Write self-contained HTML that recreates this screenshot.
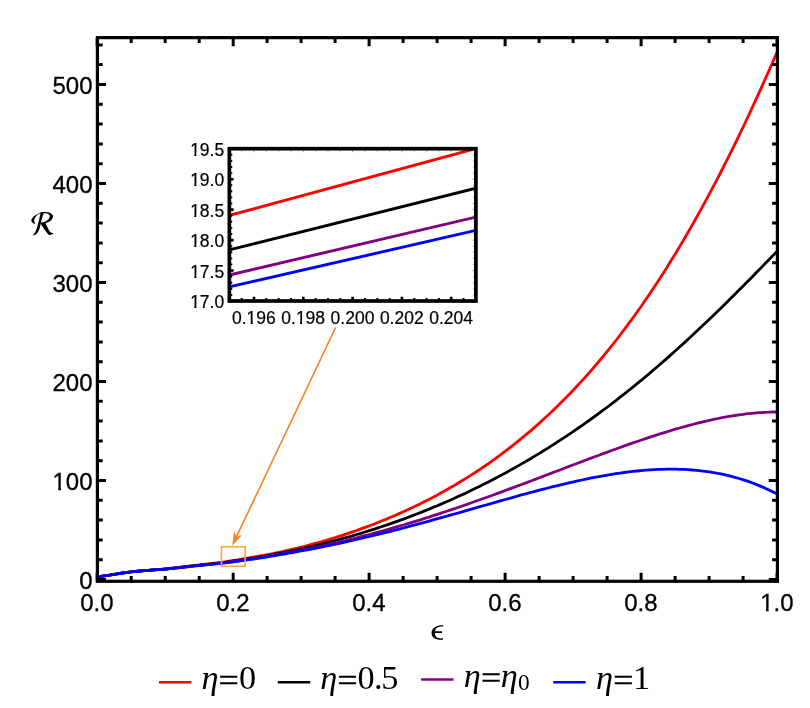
<!DOCTYPE html>
<html><head><meta charset="utf-8"><title>plot</title>
<style>html,body{margin:0;padding:0;background:#fff}svg{display:block;will-change:transform}text{font-family:"Liberation Sans",sans-serif;fill:#000}.s{font-family:"Liberation Serif",serif}</style></head><body>
<svg width="810" height="708" viewBox="0 0 810 708">
<rect width="810" height="708" fill="#fff"/>
<defs><clipPath id="cp"><rect x="97.4" y="37.65" width="680.0" height="543.65"/></clipPath><clipPath id="ci"><rect x="229.35" y="148.7" width="246.55" height="152.3"/></clipPath></defs>
<g clip-path="url(#cp)" fill="none" stroke-width="2.8" stroke-linejoin="round">
<path d="M97.4,578.6 L99.1,577.0 L100.8,576.5 L102.5,576.2 L104.2,575.9 L105.9,575.6 L107.6,575.3 L109.3,575.1 L111.0,574.8 L114.4,574.3 L118.7,573.6 L122.9,572.9 L127.2,572.3 L131.4,571.7 L135.7,571.3 L139.9,571.0 L144.2,570.6 L148.4,570.3 L152.7,569.9 L156.9,569.6 L161.2,569.3 L165.4,568.9 L169.6,568.5 L173.9,568.0 L178.2,567.5 L182.4,567.0 L186.7,566.4 L190.9,565.9 L195.1,565.4 L199.4,564.9 L203.6,564.5 L207.9,564.0 L212.1,563.5 L216.4,562.9 L220.7,562.4 L224.9,561.8 L229.1,561.2 L233.4,560.5 L237.7,559.9 L241.9,559.2 L246.1,558.5 L250.4,557.7 L254.7,557.0 L258.9,556.2 L263.1,555.4 L267.4,554.6 L271.6,553.8 L275.9,552.9 L280.1,552.0 L284.4,551.1 L288.6,550.1 L292.9,549.1 L297.1,548.1 L301.4,547.1 L305.7,546.0 L309.9,544.9 L314.1,543.7 L318.4,542.5 L322.6,541.3 L326.9,540.1 L331.1,538.8 L335.4,537.5 L339.6,536.2 L343.9,534.8 L348.1,533.4 L352.4,531.9 L356.6,530.5 L360.9,528.9 L365.1,527.4 L369.4,525.8 L373.6,524.2 L377.9,522.5 L382.1,520.8 L386.4,519.1 L390.6,517.3 L394.9,515.5 L399.1,513.6 L403.4,511.7 L407.6,509.8 L411.9,507.8 L416.1,505.8 L420.4,503.7 L424.6,501.6 L428.9,499.4 L433.1,497.2 L437.4,494.9 L441.6,492.6 L445.9,490.2 L450.1,487.8 L454.4,485.4 L458.6,482.8 L462.9,480.2 L467.1,477.6 L471.4,474.9 L475.6,472.2 L479.9,469.4 L484.1,466.5 L488.4,463.6 L492.6,460.6 L496.9,457.5 L501.1,454.4 L505.4,451.2 L509.6,447.9 L513.9,444.6 L518.1,441.2 L522.4,437.7 L526.6,434.2 L530.9,430.6 L535.1,426.9 L539.4,423.1 L543.6,419.3 L547.9,415.3 L552.1,411.3 L556.4,407.2 L560.6,403.1 L564.9,398.8 L569.1,394.5 L573.4,390.0 L577.6,385.5 L581.9,380.9 L586.1,376.2 L590.4,371.4 L594.6,366.5 L598.9,361.5 L603.1,356.4 L607.4,351.2 L611.6,345.9 L615.9,340.5 L620.1,335.0 L624.4,329.4 L628.6,323.7 L632.9,317.9 L637.1,312.0 L641.4,306.0 L645.6,299.8 L649.9,293.6 L654.1,287.2 L658.4,280.7 L662.6,274.2 L666.9,267.5 L671.1,260.6 L675.4,253.7 L679.6,246.6 L683.9,239.5 L688.1,232.2 L692.4,224.8 L696.6,217.2 L700.9,209.6 L705.1,201.8 L709.4,193.9 L713.6,185.9 L717.9,177.8 L722.1,169.5 L726.4,161.2 L730.6,152.7 L734.9,144.1 L739.1,135.3 L743.4,126.5 L747.6,117.5 L751.9,108.4 L756.1,99.2 L760.4,89.9 L764.6,80.4 L768.9,70.9 L773.1,61.2 L777.4,51.4" stroke="#ff0000"/>
<path d="M97.4,578.6 L99.1,577.0 L100.8,576.5 L102.5,576.2 L104.2,575.9 L105.9,575.6 L107.6,575.3 L109.3,575.1 L111.0,574.8 L114.4,574.3 L118.7,573.6 L122.9,572.9 L127.2,572.3 L131.4,571.8 L135.7,571.3 L139.9,571.0 L144.2,570.7 L148.4,570.3 L152.7,570.0 L156.9,569.7 L161.2,569.3 L165.4,569.0 L169.6,568.6 L173.9,568.1 L178.2,567.6 L182.4,567.1 L186.7,566.6 L190.9,566.1 L195.1,565.6 L199.4,565.2 L203.6,564.7 L207.9,564.3 L212.1,563.8 L216.4,563.3 L220.7,562.8 L224.9,562.3 L229.1,561.7 L233.4,561.1 L237.7,560.5 L241.9,559.8 L246.1,559.2 L250.4,558.5 L254.7,557.8 L258.9,557.1 L263.1,556.4 L267.4,555.6 L271.6,554.8 L275.9,554.0 L280.1,553.2 L284.4,552.4 L288.6,551.5 L292.9,550.6 L297.1,549.7 L301.4,548.8 L305.7,547.9 L309.9,546.9 L314.1,545.9 L318.4,544.9 L322.6,543.8 L326.9,542.7 L331.1,541.6 L335.4,540.5 L339.6,539.4 L343.9,538.2 L348.1,537.0 L352.4,535.8 L356.6,534.5 L360.9,533.3 L365.1,532.0 L369.4,530.6 L373.6,529.3 L377.9,527.9 L382.1,526.5 L386.4,525.1 L390.6,523.6 L394.9,522.1 L399.1,520.6 L403.4,519.1 L407.6,517.5 L411.9,515.9 L416.1,514.3 L420.4,512.6 L424.6,510.9 L428.9,509.2 L433.1,507.4 L437.4,505.7 L441.6,503.9 L445.9,502.0 L450.1,500.2 L454.4,498.3 L458.6,496.3 L462.9,494.4 L467.1,492.4 L471.4,490.3 L475.6,488.3 L479.9,486.2 L484.1,484.1 L488.4,481.9 L492.6,479.7 L496.9,477.5 L501.1,475.2 L505.4,473.0 L509.6,470.6 L513.9,468.3 L518.1,465.9 L522.4,463.4 L526.6,461.0 L530.9,458.5 L535.1,455.9 L539.4,453.4 L543.6,450.7 L547.9,448.1 L552.1,445.4 L556.4,442.7 L560.6,439.9 L564.9,437.1 L569.1,434.3 L573.4,431.4 L577.6,428.5 L581.9,425.6 L586.1,422.6 L590.4,419.5 L594.6,416.5 L598.9,413.4 L603.1,410.2 L607.4,407.0 L611.6,403.8 L615.9,400.6 L620.1,397.2 L624.4,393.9 L628.6,390.5 L632.9,387.1 L637.1,383.7 L641.4,380.2 L645.6,376.6 L649.9,373.1 L654.1,369.4 L658.4,365.8 L662.6,362.1 L666.9,358.4 L671.1,354.6 L675.4,350.8 L679.6,347.0 L683.9,343.1 L688.1,339.2 L692.4,335.3 L696.6,331.3 L700.9,327.3 L705.1,323.3 L709.4,319.2 L713.6,315.2 L717.9,311.0 L722.1,306.9 L726.4,302.7 L730.6,298.5 L734.9,294.3 L739.1,290.0 L743.4,285.8 L747.6,281.5 L751.9,277.2 L756.1,272.8 L760.4,268.5 L764.6,264.1 L768.9,259.8 L773.1,255.4 L777.4,251.0" stroke="#000000"/>
<path d="M97.4,578.6 L99.1,577.0 L100.8,576.5 L102.5,576.2 L104.2,575.9 L105.9,575.6 L107.6,575.3 L109.3,575.1 L111.0,574.8 L114.4,574.3 L118.7,573.6 L122.9,573.0 L127.2,572.3 L131.4,571.8 L135.7,571.4 L139.9,571.0 L144.2,570.7 L148.4,570.4 L152.7,570.0 L156.9,569.7 L161.2,569.4 L165.4,569.0 L169.6,568.6 L173.9,568.2 L178.2,567.7 L182.4,567.3 L186.7,566.8 L190.9,566.3 L195.1,565.8 L199.4,565.4 L203.6,565.0 L207.9,564.5 L212.1,564.1 L216.4,563.6 L220.7,563.2 L224.9,562.6 L229.1,562.1 L233.4,561.5 L237.7,561.0 L241.9,560.4 L246.1,559.7 L250.4,559.1 L254.7,558.5 L258.9,557.8 L263.1,557.1 L267.4,556.4 L271.6,555.7 L275.9,555.0 L280.1,554.2 L284.4,553.4 L288.6,552.7 L292.9,551.9 L297.1,551.0 L301.4,550.2 L305.7,549.4 L309.9,548.5 L314.1,547.6 L318.4,546.7 L322.6,545.8 L326.9,544.9 L331.1,543.9 L335.4,543.0 L339.6,542.0 L343.9,541.0 L348.1,539.9 L352.4,538.9 L356.6,537.8 L360.9,536.7 L365.1,535.6 L369.4,534.5 L373.6,533.4 L377.9,532.2 L382.1,531.1 L386.4,529.9 L390.6,528.7 L394.9,527.4 L399.1,526.2 L403.4,525.0 L407.6,523.7 L411.9,522.4 L416.1,521.1 L420.4,519.8 L424.6,518.4 L428.9,517.1 L433.1,515.7 L437.4,514.3 L441.6,512.9 L445.9,511.5 L450.1,510.1 L454.4,508.7 L458.6,507.2 L462.9,505.7 L467.1,504.3 L471.4,502.8 L475.6,501.3 L479.9,499.8 L484.1,498.3 L488.4,496.7 L492.6,495.2 L496.9,493.6 L501.1,492.1 L505.4,490.5 L509.6,488.9 L513.9,487.4 L518.1,485.8 L522.4,484.2 L526.6,482.6 L530.9,481.0 L535.1,479.4 L539.4,477.8 L543.6,476.1 L547.9,474.5 L552.1,472.9 L556.4,471.3 L560.6,469.7 L564.9,468.0 L569.1,466.4 L573.4,464.8 L577.6,463.2 L581.9,461.6 L586.1,460.0 L590.4,458.4 L594.6,456.8 L598.9,455.2 L603.1,453.6 L607.4,452.1 L611.6,450.5 L615.9,449.0 L620.1,447.5 L624.4,445.9 L628.6,444.4 L632.9,442.9 L637.1,441.5 L641.4,440.0 L645.6,438.6 L649.9,437.2 L654.1,435.8 L658.4,434.4 L662.6,433.1 L666.9,431.8 L671.1,430.5 L675.4,429.2 L679.6,428.0 L683.9,426.8 L688.1,425.6 L692.4,424.5 L696.6,423.4 L700.9,422.3 L705.1,421.3 L709.4,420.3 L713.6,419.4 L717.9,418.5 L722.1,417.7 L726.4,416.9 L730.6,416.1 L734.9,415.5 L739.1,414.8 L743.4,414.3 L747.6,413.7 L751.9,413.3 L756.1,412.9 L760.4,412.6 L764.6,412.3 L768.9,412.2 L773.1,412.0 L777.4,412.0" stroke="#800080"/>
<path d="M97.4,578.6 L99.1,577.0 L100.8,576.5 L102.5,576.2 L104.2,575.9 L105.9,575.6 L107.6,575.3 L109.3,575.1 L111.0,574.8 L114.4,574.3 L118.7,573.6 L122.9,573.0 L127.2,572.3 L131.4,571.8 L135.7,571.4 L139.9,571.0 L144.2,570.7 L148.4,570.4 L152.7,570.0 L156.9,569.7 L161.2,569.4 L165.4,569.1 L169.6,568.7 L173.9,568.2 L178.2,567.8 L182.4,567.3 L186.7,566.8 L190.9,566.4 L195.1,565.9 L199.4,565.5 L203.6,565.1 L207.9,564.7 L212.1,564.2 L216.4,563.8 L220.7,563.3 L224.9,562.8 L229.1,562.3 L233.4,561.8 L237.7,561.2 L241.9,560.6 L246.1,560.0 L250.4,559.4 L254.7,558.8 L258.9,558.2 L263.1,557.5 L267.4,556.8 L271.6,556.1 L275.9,555.4 L280.1,554.7 L284.4,554.0 L288.6,553.2 L292.9,552.5 L297.1,551.7 L301.4,550.9 L305.7,550.1 L309.9,549.3 L314.1,548.5 L318.4,547.7 L322.6,546.9 L326.9,546.0 L331.1,545.1 L335.4,544.2 L339.6,543.3 L343.9,542.4 L348.1,541.4 L352.4,540.5 L356.6,539.5 L360.9,538.5 L365.1,537.5 L369.4,536.5 L373.6,535.5 L377.9,534.4 L382.1,533.4 L386.4,532.3 L390.6,531.3 L394.9,530.2 L399.1,529.1 L403.4,528.0 L407.6,526.8 L411.9,525.7 L416.1,524.6 L420.4,523.4 L424.6,522.3 L428.9,521.1 L433.1,519.9 L437.4,518.7 L441.6,517.6 L445.9,516.4 L450.1,515.2 L454.4,514.0 L458.6,512.8 L462.9,511.6 L467.1,510.3 L471.4,509.1 L475.6,507.9 L479.9,506.7 L484.1,505.5 L488.4,504.3 L492.6,503.1 L496.9,501.9 L501.1,500.7 L505.4,499.5 L509.6,498.3 L513.9,497.1 L518.1,495.9 L522.4,494.7 L526.6,493.6 L530.9,492.4 L535.1,491.3 L539.4,490.2 L543.6,489.1 L547.9,488.0 L552.1,486.9 L556.4,485.9 L560.6,484.8 L564.9,483.8 L569.1,482.8 L573.4,481.8 L577.6,480.9 L581.9,480.0 L586.1,479.1 L590.4,478.2 L594.6,477.4 L598.9,476.6 L603.1,475.8 L607.4,475.1 L611.6,474.4 L615.9,473.7 L620.1,473.1 L624.4,472.5 L628.6,471.9 L632.9,471.4 L637.1,471.0 L641.4,470.6 L645.6,470.2 L649.9,469.9 L654.1,469.6 L658.4,469.4 L662.6,469.3 L666.9,469.2 L671.1,469.1 L675.4,469.2 L679.6,469.3 L683.9,469.4 L688.1,469.7 L692.4,470.0 L696.6,470.3 L700.9,470.8 L705.1,471.3 L709.4,471.9 L713.6,472.6 L717.9,473.3 L722.1,474.2 L726.4,475.1 L730.6,476.2 L734.9,477.3 L739.1,478.5 L743.4,479.8 L747.6,481.2 L751.9,482.7 L756.1,484.4 L760.4,486.1 L764.6,487.9 L768.9,489.9 L773.1,491.9 L777.4,494.1" stroke="#0000ff"/>
</g>
<path d="M97.2,581.3v-8.6M97.2,37.65v8.6M131.2,581.3v-5.3M131.2,37.65v5.3M165.2,581.3v-5.3M165.2,37.65v5.3M199.2,581.3v-5.3M199.2,37.65v5.3M233.2,581.3v-8.6M233.2,37.65v8.6M267.1,581.3v-5.3M267.1,37.65v5.3M301.1,581.3v-5.3M301.1,37.65v5.3M335.1,581.3v-5.3M335.1,37.65v5.3M369.1,581.3v-8.6M369.1,37.65v8.6M403.1,581.3v-5.3M403.1,37.65v5.3M437.1,581.3v-5.3M437.1,37.65v5.3M471.1,581.3v-5.3M471.1,37.65v5.3M505.1,581.3v-8.6M505.1,37.65v8.6M539.1,581.3v-5.3M539.1,37.65v5.3M573.1,581.3v-5.3M573.1,37.65v5.3M607.1,581.3v-5.3M607.1,37.65v5.3M641.1,581.3v-8.6M641.1,37.65v8.6M675.1,581.3v-5.3M675.1,37.65v5.3M709.1,581.3v-5.3M709.1,37.65v5.3M743.1,581.3v-5.3M743.1,37.65v5.3M777.1,581.3v-8.6M777.1,37.65v8.6M97.4,579.5h8.6M777.4,579.5h-8.6M97.4,559.7h5.3M777.4,559.7h-5.3M97.4,539.9h5.3M777.4,539.9h-5.3M97.4,520.1h5.3M777.4,520.1h-5.3M97.4,500.3h5.3M777.4,500.3h-5.3M97.4,480.5h8.6M777.4,480.5h-8.6M97.4,460.7h5.3M777.4,460.7h-5.3M97.4,440.9h5.3M777.4,440.9h-5.3M97.4,421.1h5.3M777.4,421.1h-5.3M97.4,401.2h5.3M777.4,401.2h-5.3M97.4,381.5h8.6M777.4,381.5h-8.6M97.4,361.7h5.3M777.4,361.7h-5.3M97.4,341.9h5.3M777.4,341.9h-5.3M97.4,322.1h5.3M777.4,322.1h-5.3M97.4,302.3h5.3M777.4,302.3h-5.3M97.4,282.5h8.6M777.4,282.5h-8.6M97.4,262.7h5.3M777.4,262.7h-5.3M97.4,242.9h5.3M777.4,242.9h-5.3M97.4,223.1h5.3M777.4,223.1h-5.3M97.4,203.3h5.3M777.4,203.3h-5.3M97.4,183.5h8.6M777.4,183.5h-8.6M97.4,163.7h5.3M777.4,163.7h-5.3M97.4,143.9h5.3M777.4,143.9h-5.3M97.4,124.1h5.3M777.4,124.1h-5.3M97.4,104.2h5.3M777.4,104.2h-5.3M97.4,84.5h8.6M777.4,84.5h-8.6M97.4,64.6h5.3M777.4,64.6h-5.3M97.4,44.9h5.3M777.4,44.9h-5.3" stroke="#000" stroke-width="3.0" fill="none"/>
<rect x="97.4" y="37.65" width="680.0" height="543.65" fill="none" stroke="#000" stroke-width="3.2"/>
<g font-size="24px" stroke="#000" stroke-width="0.3">
<text x="92.5" y="588.5" text-anchor="end">0</text>
<text x="92.5" y="489.5" text-anchor="end">100</text>
<text x="92.5" y="390.5" text-anchor="end">200</text>
<text x="92.5" y="291.5" text-anchor="end">300</text>
<text x="92.5" y="192.5" text-anchor="end">400</text>
<text x="92.5" y="93.5" text-anchor="end">500</text>
<text x="96.9" y="611" text-anchor="middle">0.0</text>
<text x="232.9" y="611" text-anchor="middle">0.2</text>
<text x="368.9" y="611" text-anchor="middle">0.4</text>
<text x="504.9" y="611" text-anchor="middle">0.6</text>
<text x="640.9" y="611" text-anchor="middle">0.8</text>
<text x="776.9" y="611" text-anchor="middle">1.0</text>
</g>
<rect x="229.35" y="148.7" width="246.54999999999998" height="152.3" fill="#fff"/>
<g clip-path="url(#ci)" fill="none" stroke-width="2.9">
<path d="M229.35,215.4 L475.9,148.5" stroke="#ff0000"/>
<path d="M229.35,249.9 L475.9,188.2" stroke="#000000"/>
<path d="M229.35,275.0 L475.9,217.1" stroke="#800080"/>
<path d="M229.35,286.9 L475.9,230.4" stroke="#0000ff"/>
</g>
<path d="M229.3,148.7v3.0M241.7,148.7v3.0M254.0,148.7v3.6M266.3,148.7v3.0M278.7,148.7v3.0M291.0,148.7v3.0M303.3,148.7v3.6M315.6,148.7v3.0M328.0,148.7v3.0M340.3,148.7v3.0M352.6,148.7v3.6M365.0,148.7v3.0M377.3,148.7v3.0M389.6,148.7v3.0M401.9,148.7v3.6M414.3,148.7v3.0M426.6,148.7v3.0M438.9,148.7v3.0M451.2,148.7v3.6M463.6,148.7v3.0M475.9,148.7v3.0M475.9,301.0h-3.6M475.9,294.9h-3.0M475.9,288.8h-3.0M475.9,282.7h-3.0M475.9,276.6h-3.0M475.9,270.5h-3.6M475.9,264.4h-3.0M475.9,258.4h-3.0M475.9,252.3h-3.0M475.9,246.2h-3.0M475.9,240.1h-3.6M475.9,234.0h-3.0M475.9,227.9h-3.0M475.9,221.8h-3.0M475.9,215.7h-3.0M475.9,209.6h-3.6M475.9,203.5h-3.0M475.9,197.4h-3.0M475.9,191.3h-3.0M475.9,185.3h-3.0M475.9,179.2h-3.6M475.9,173.1h-3.0M475.9,167.0h-3.0M475.9,160.9h-3.0M475.9,154.8h-3.0M475.9,148.7h-3.6" stroke="#000" stroke-opacity="0.6" stroke-width="0.6" fill="none"/>
<path d="M254.0,301.0v-4.3M303.3,301.0v-4.3M352.6,301.0v-4.3M401.9,301.0v-4.3M451.2,301.0v-4.3M229.35,301.0h4.3M229.35,270.5h4.3M229.35,240.1h4.3M229.35,209.6h4.3M229.35,179.2h4.3M229.35,148.7h4.3" stroke="#000" stroke-width="2.6" fill="none"/>
<path d="M229.3,301.0v-2.9M241.7,301.0v-2.9M266.3,301.0v-2.9M278.7,301.0v-2.9M291.0,301.0v-2.9M315.6,301.0v-2.9M328.0,301.0v-2.9M340.3,301.0v-2.9M365.0,301.0v-2.9M377.3,301.0v-2.9M389.6,301.0v-2.9M414.3,301.0v-2.9M426.6,301.0v-2.9M438.9,301.0v-2.9M463.6,301.0v-2.9M475.9,301.0v-2.9M229.35,294.9h2.9M229.35,288.8h2.9M229.35,282.7h2.9M229.35,276.6h2.9M229.35,264.4h2.9M229.35,258.4h2.9M229.35,252.3h2.9M229.35,246.2h2.9M229.35,234.0h2.9M229.35,227.9h2.9M229.35,221.8h2.9M229.35,215.7h2.9M229.35,203.5h2.9M229.35,197.4h2.9M229.35,191.3h2.9M229.35,185.3h2.9M229.35,173.1h2.9M229.35,167.0h2.9M229.35,160.9h2.9M229.35,154.8h2.9" stroke="#000" stroke-width="1.9" fill="none"/>
<rect x="229.35" y="148.7" width="246.54999999999998" height="152.3" fill="none" stroke="#000" stroke-width="3.7"/>
<g font-size="17.5px" stroke="#000" stroke-width="0.2">
<text x="224.2" y="308.0" text-anchor="end">17.0</text>
<text x="224.2" y="277.5" text-anchor="end">17.5</text>
<text x="224.2" y="247.1" text-anchor="end">18.0</text>
<text x="224.2" y="216.6" text-anchor="end">18.5</text>
<text x="224.2" y="186.2" text-anchor="end">19.0</text>
<text x="224.2" y="155.7" text-anchor="end">19.5</text>
<text x="253.9" y="324" text-anchor="middle">0.196</text>
<text x="303.2" y="324" text-anchor="middle">0.198</text>
<text x="352.5" y="324" text-anchor="middle">0.200</text>
<text x="401.8" y="324" text-anchor="middle">0.202</text>
<text x="451.1" y="324" text-anchor="middle">0.204</text>
</g>
<path d="M53.74,486.71H58.19V491.50H53.74ZM60.91,486.71H65.15V491.50H60.91ZM761.50,608.21H765.95V613.00H761.50ZM768.67,608.21H772.91V613.00H768.67ZM190.96,305.69H194.24V310.00H190.96ZM196.39,305.69H199.50V310.00H196.39ZM190.96,275.19H194.24V279.50H190.96ZM196.39,275.19H199.50V279.50H196.39ZM190.96,244.79H194.24V249.10H190.96ZM196.39,244.79H199.50V249.10H196.39ZM190.96,214.29H194.24V218.60H190.96ZM196.39,214.29H199.50V218.60H196.39ZM190.96,183.89H194.24V188.20H190.96ZM196.39,183.89H199.50V188.20H196.39ZM190.96,153.39H194.24V157.70H190.96ZM196.39,153.39H199.50V157.70H196.39ZM247.42,321.69H250.70V326.00H247.42ZM252.84,321.69H255.96V326.00H252.84ZM296.72,321.69H300.00V326.00H296.72ZM302.14,321.69H305.26V326.00H302.14Z" fill="#fff"/>
<rect x="221.45" y="546.75" width="23.75" height="19.55" fill="none" stroke="#f8a83c" stroke-width="1.6"/>
<path d="M335.6,327.5 L236.5,536.7" stroke="#f5821f" stroke-width="1.6" fill="none"/>
<path d="M232.2,545.7 L234.2,531.1 L236.5,536.7 L242.2,535.1 Z" fill="#f5821f"/>
<path transform="translate(425,618) scale(0.03956)" d="M465,183 C330,170 165,235 165,375 C165,500 270,565 455,550 L455,512 C330,528 250,490 250,380 L430,378 L430,335 L252,333 C260,270 318,208 455,218 Z" fill="#000"/>
<g transform="translate(26,206) scale(0.04802)" fill="#000"><path d="M400,122 C290,127 160,195 112,285 C100,320 130,350 182,377 L190,360 C160,320 160,270 230,190 C270,160 320,147 400,142 Z"/><path d="M290,134 C420,108 525,125 560,195 C580,270 500,340 400,358 L305,368 L318,345 C400,340 470,300 492,225 C500,165 440,140 340,152 Z"/><path d="M300,160 C280,250 250,400 215,490 C195,550 170,585 140,605 L152,615 C230,590 270,520 290,440 C310,340 335,240 368,148 L310,140 Z"/><path d="M298,358 C340,420 400,520 470,600 C510,615 550,590 574,568 L566,558 C530,575 500,545 470,490 C440,430 420,390 402,350 Z"/></g>
<g id="legend"><path d="M159,682.2h32.4" stroke="#ff0000" stroke-width="2.5" fill="none"/><text class="s" font-style="italic" font-size="34.3px" x="201.6" y="688.8">η</text><path d="M220.1,676.7h17.2M220.1,683.3h17.2" stroke="#000" stroke-width="1.9" fill="none"/><text class="s" font-size="34.3px" x="239.1" y="688.8">0</text><path d="M277.8,682.2h32.4" stroke="#000000" stroke-width="2.5" fill="none"/><text class="s" font-style="italic" font-size="34.3px" x="320.2" y="688.8">η</text><path d="M338.9,676.7h17.2M338.9,683.3h17.2" stroke="#000" stroke-width="1.9" fill="none"/><text class="s" font-size="34.3px" x="357.6" y="688.8">0</text><text class="s" font-size="34.3px" x="374.1" y="688.8">.</text><text class="s" font-size="34.3px" x="381.3" y="688.8">5</text><path d="M421.1,679.5h32.4" stroke="#800080" stroke-width="2.5" fill="none"/><text class="s" font-style="italic" font-size="34.3px" x="463.7" y="686.6999999999999">η</text><path d="M482.5,674.2h17.2M482.5,680.8h17.2" stroke="#000" stroke-width="1.9" fill="none"/><text class="s" font-style="italic" font-size="34.3px" x="500.8" y="686.6999999999999">η</text><text class="s" font-size="23.4px" x="517.9" y="690.0">0</text><path d="M553.3,682.2h32.4" stroke="#0000ff" stroke-width="2.5" fill="none"/><text class="s" font-style="italic" font-size="34.3px" x="596.0" y="688.8">η</text><path d="M614.7,676.7h17.2M614.7,683.3h17.2" stroke="#000" stroke-width="1.9" fill="none"/><text class="s" font-size="34.3px" x="633.0" y="688.8">1</text></g>
</svg></body></html>
